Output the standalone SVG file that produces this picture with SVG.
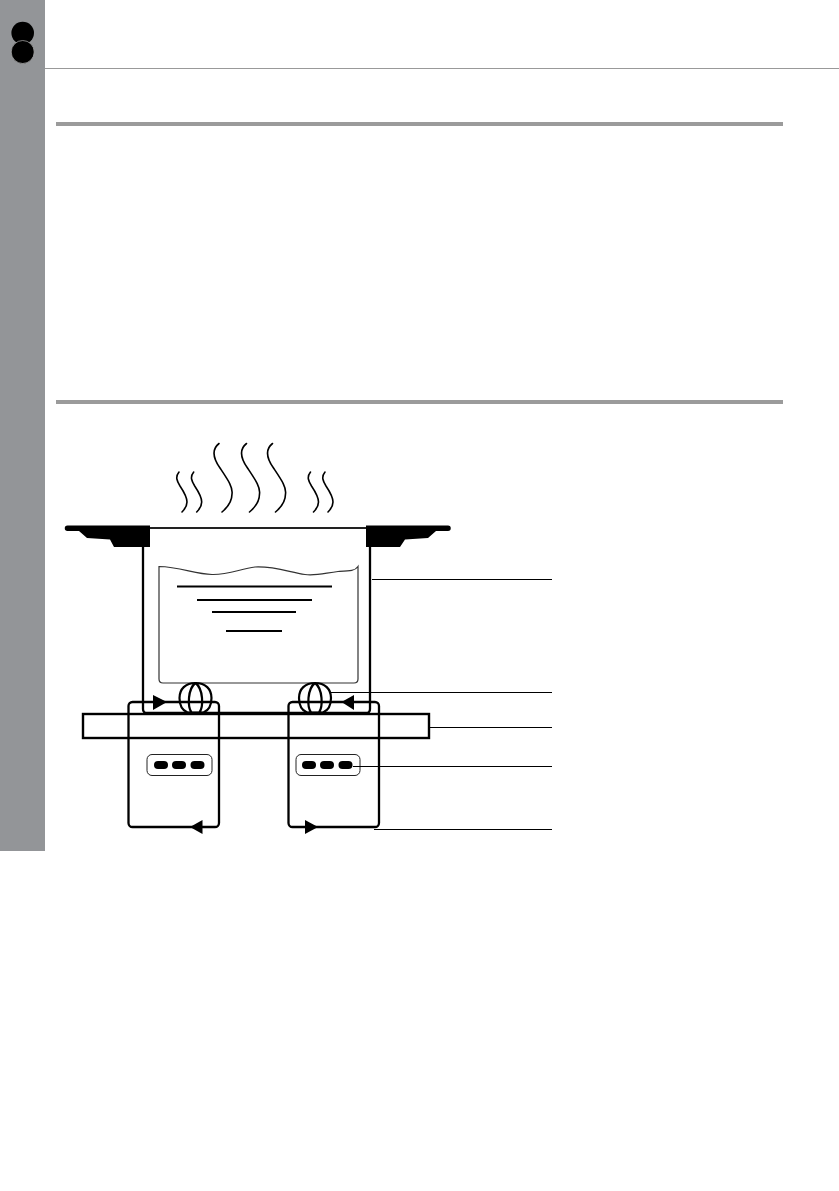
<svg xmlns="http://www.w3.org/2000/svg" width="839" height="1191" viewBox="0 0 839 1191">
<style>
.l{fill:none;stroke:#000;stroke-width:2.300;stroke-linejoin:round}
.t{fill:none;stroke:#000;stroke-width:1}
.b{fill:#000;stroke:none}
.s{fill:none;stroke:#000;stroke-width:1.600;stroke-linecap:round}
.w{fill:none;stroke:#000;stroke-width:2.200}
.bar{fill:#9b9b9b}
</style>
<defs>
<path id="big" d="M219,443.500 C212,449 213,458 220,468 C228,480 233,487 232,494 C232,501 228,507 222,512"/>
<path id="small" d="M179,472 C175,477 177,481 180,486 C184,492 187,497 187,502 C187,506 185,509 182,512"/>
<path id="ball" d="M0,-15 C10,-15 16,-9 16,0 C16,7 14,12 8,14.500 H-8 C-14,12 -16,7 -16,0 C-16,-9 -10,-15 0,-15 Z M0,-15 C-8,-9 -8,9 -4,14.500 M0,-15 C8,-9 8,9 4,14.500"/>
</defs>
<rect width="839" height="1191" fill="#fff"/>
<g id="page">
<rect x="0" y="0" width="45" height="851" fill="#939598"/>
<circle class="b" cx="22.700" cy="33" r="11.300"/>
<circle class="b" cx="22.700" cy="52" r="11.500" style="stroke:#b5b5b5;stroke-width:.7"/>
<rect x="45" y="68" width="794" height="1" fill="#999"/>
<rect class="bar" x="56" y="122" width="727" height="4"/>
<rect class="bar" x="56" y="400" width="727" height="4"/>
</g>
<g id="steam">
<use href="#big" class="s"/>
<use href="#big" class="s" x="27.500"/>
<use href="#big" class="s" x="53.500"/>
<use href="#small" class="s"/>
<use href="#small" class="s" x="14.700"/>
<use href="#small" class="s" x="131.500"/>
<use href="#small" class="s" x="146"/>
</g>
<g id="pot">
<path class="l" d="M143,547 V709 Q143,713 147,713 H366 Q370,713 370,709 V547"/>
<path d="M150,528 H366" fill="none" stroke="#222" stroke-width="2"/>
<path class="b" d="M67.500,525.500 H150 V547 H114 L110,539.500 L87,538 L79,531 H67.500 A2.700,2.700 0 0 1 67.500,525.500 Z"/>
<path class="b" d="M448,525.500 H366 V547 H400 L405,539.500 L428,538 L436,531 H448 A2.700,2.700 0 0 0 448,525.500 Z"/>
</g>
<g id="water">
<path d="M159,566.500 V679 Q159,683 163,683 H354 Q358,683 358,679 V566.500 C355,571 350,571 338,571.500 C325,573 316,576 305,574.500 C290,572.500 275,566 255,567 C240,569 228,575 212,574.500 C195,574 180,567 159,566.500 Z" fill="none" stroke="#333" stroke-width="1.200"/>
<path d="M177,586.500 H332 M197,600 H312 M212,612 H296 M226,631 H282" fill="none" stroke="#000" stroke-width="2"/>
</g>
<g id="ball-left"><use href="#ball" class="w" x="195.500" y="698"/></g>
<g id="ball-right"><use href="#ball" class="w" x="315" y="698"/></g>
<g id="plate"><rect x="83" y="714" width="346" height="24" fill="none" stroke="#000" stroke-width="2.400"/></g>
<g id="burner-left">
<rect class="l" x="128.500" y="702" width="90.500" height="125" rx="4"/>
<rect x="147" y="754.500" width="65" height="21" rx="5" fill="none" stroke="#222" stroke-width="1"/>
<rect class="b" x="154" y="761" width="14" height="8" rx="4"/>
<rect class="b" x="172" y="761" width="14" height="8" rx="4"/>
<rect class="b" x="190.500" y="761" width="14" height="8" rx="4"/>
<polygon class="b" points="153,695 167,702 153,710"/>
<polygon class="b" points="202.500,820 190,827 202.500,834"/>
</g>
<g id="burner-right">
<rect class="l" x="288.500" y="702" width="90.500" height="125" rx="4"/>
<rect x="296" y="754.500" width="64" height="21" rx="5" fill="none" stroke="#222" stroke-width="1"/>
<rect class="b" x="302" y="761" width="14" height="8" rx="4"/>
<rect class="b" x="320" y="761" width="14" height="8" rx="4"/>
<rect class="b" x="338.500" y="761" width="14" height="8" rx="4"/>
<polygon class="b" points="354,695 341.500,702 354,710"/>
<polygon class="b" points="305,820 318,827 305,834"/>
</g>
<g id="connectors">
<path class="t" d="M372,579.500 H552"/>
<path class="t" d="M331,692.500 H552"/>
<path class="t" d="M430,727.500 H552"/>
<path class="t" d="M353,766.500 H552"/>
<path class="t" d="M374,829.500 H552"/>
</g>
</svg>
